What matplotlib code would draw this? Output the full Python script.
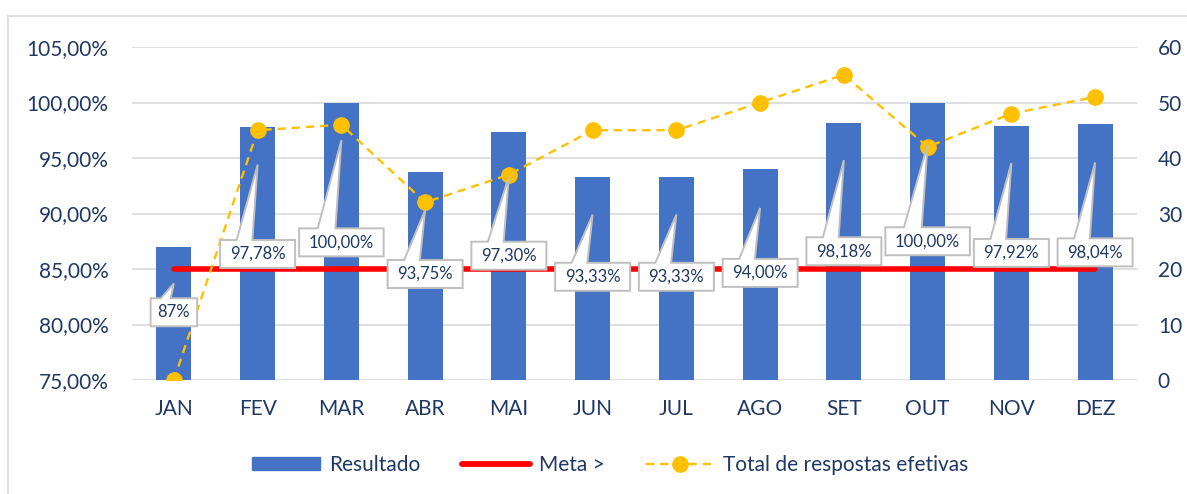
import numpy as np
import matplotlib.pyplot as plt
from matplotlib.patches import Polygon, Patch
from matplotlib.lines import Line2D
from matplotlib.ticker import FuncFormatter
from matplotlib.transforms import IdentityTransform

plt.rcParams['font.family'] = ['Lato', 'DejaVu Sans']

# dados
meses = ['JAN', 'FEV', 'MAR', 'ABR', 'MAI', 'JUN', 'JUL', 'AGO', 'SET', 'OUT', 'NOV', 'DEZ']
resultado = [87.0, 97.78, 100.0, 93.75, 97.30, 93.33, 93.33, 94.00, 98.18, 100.0, 97.92, 98.04]
rotulos = ['87%', '97,78%', '100,00%', '93,75%', '97,30%', '93,33%', '93,33%', '94,00%',
           '98,18%', '100,00%', '97,92%', '98,04%']
meta = [85] * 12
respostas = [0, 45, 46, 32, 37, 45, 45, 50, 55, 42, 48, 51]

# onde ficam os balões (centro da caixa / ponta), em % do eixo esquerdo
caixa_y = [81.1, 86.35, 87.4, 84.55, 86.2, 84.3, 84.3, 84.65, 86.6, 87.5, 86.45, 86.5]
ponta_y = [83.7, 94.4, 96.6, 90.3, 93.3, 89.9, 89.9, 90.5, 94.8, 96.2, 94.55, 94.6]

AZUL = '#4472C4'
AMARELO = '#FFC000'
VERMELHO = '#FF0000'
TEXTO = '#203864'
GRADE = '#D9D9D9'

fig = plt.figure(figsize=(11.87, 4.94), dpi=100)
ax = fig.add_axes([132 / 1187, 1 - 380 / 494, 1005 / 1187, 333 / 494])
x = np.arange(len(meses))

ax.bar(x, resultado, width=0.42, color=AZUL, zorder=2)
ax.plot(x, meta, color=VERMELHO, lw=4, solid_capstyle='round', zorder=3)

ax.set_xlim(-0.5, len(meses) - 0.5)
ax.set_ylim(75, 105)
ax.set_yticks(np.arange(75, 106, 5))
ax.yaxis.set_major_formatter(FuncFormatter(lambda v, p: f'{v:.2f}%'.replace('.', ',')))
ax.set_xticks(x)
ax.set_xticklabels(meses)
ax.grid(axis='y', color=GRADE, lw=1.2, zorder=0)
ax.set_axisbelow(True)
for s in ax.spines.values():
    s.set_visible(False)
ax.tick_params(axis='both', length=0, labelsize=15, colors=TEXTO)
ax.tick_params(axis='y', pad=17)
ax.tick_params(axis='x', pad=14)

ax2 = ax.twinx()
ax2.plot(x, respostas, color=AMARELO, lw=1.7, dashes=(3.5, 2.5), marker='o', ms=11,
         zorder=4)
ax2.set_ylim(0, 60)
ax2.set_yticks(np.arange(0, 61, 10))
for s in ax2.spines.values():
    s.set_visible(False)
ax2.tick_params(axis='y', length=0, labelsize=15, colors=TEXTO, pad=15)

# balões dos rótulos (desenhados em pixels)
for i, txt in enumerate(rotulos):
    cx, cy = ax.transData.transform((i, caixa_y[i]))
    tx, ty = ax.transData.transform((i, ponta_y[i]))
    w = 9.5 * len(txt) + 18
    h = 28
    l, r, b, t = cx - w / 2, cx + w / 2, cy - h / 2, cy + h / 2
    verts = [(l, b), (r, b), (r, t), (cx - 0.07 * w, t), (tx, ty),
             (cx - 0.28 * w, t), (l, t)]
    ax2.add_patch(Polygon(verts, closed=True, transform=IdentityTransform(),
                          fc='white', ec='#BFBFBF', lw=1.4, zorder=6))
    ax2.text(cx, cy, txt, transform=IdentityTransform(), ha='center', va='center',
             fontsize=12, color=TEXTO, zorder=7)

# legenda
handles = [Patch(color=AZUL),
           Line2D([], [], color=VERMELHO, lw=4.2, solid_capstyle='round'),
           Line2D([], [], color=AMARELO, lw=1.7, dashes=(3.5, 2.5), marker='o', ms=11)]
fig.legend(handles, ['Resultado', 'Meta >', 'Total de respostas efetivas'],
           loc='center', bbox_to_anchor=(610 / 1187, 1 - 465 / 494), ncol=3,
           frameon=False, fontsize=15, labelcolor=TEXTO, handlelength=3.3,
           handleheight=0.6, handletextpad=0.4, columnspacing=2.0)

# borda da área do gráfico
xb = 8 / 1187
yb = 1 - 16 / 494
fig.add_artist(Line2D([xb, 1], [yb, yb], color=GRADE, lw=1.2))
fig.add_artist(Line2D([xb, xb], [0, yb], color=GRADE, lw=1.2))

fig.savefig('out.png', dpi=100)
